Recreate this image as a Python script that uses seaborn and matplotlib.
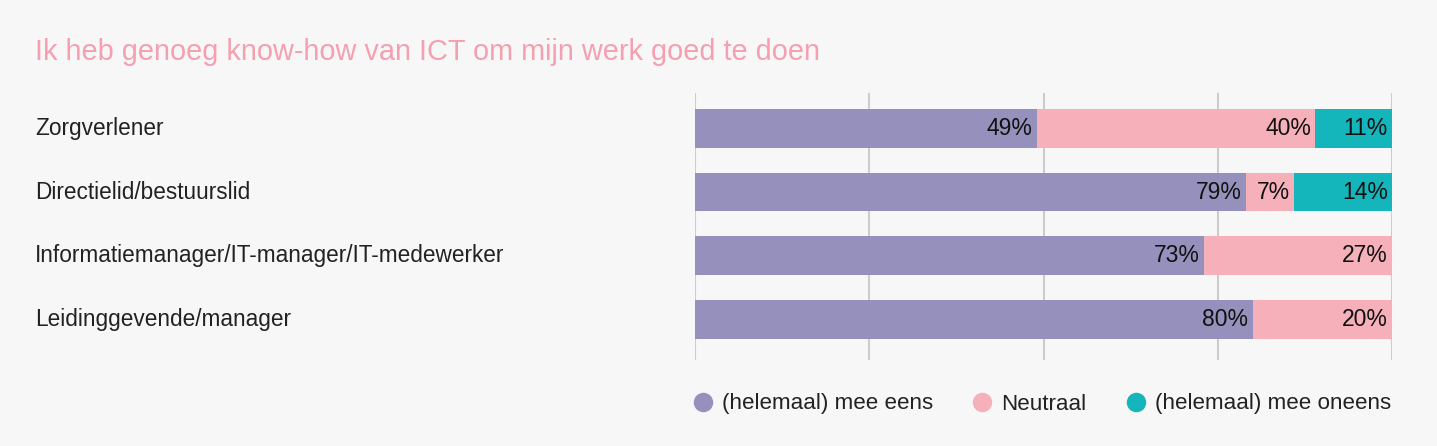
import matplotlib
matplotlib.use("Agg")
import matplotlib.pyplot as plt
import matplotlib.transforms as mtransforms
from matplotlib.lines import Line2D
import seaborn as sns
import pandas as pd
import numpy as np

categories = ["Zorgverlener", "Directielid/bestuurslid",
              "Informatiemanager/IT-manager/IT-medewerker", "Leidinggevende/manager"]
series_names = ["(helemaal) mee eens", "Neutraal", "(helemaal) mee oneens"]
eens = [49, 79, 73, 80]
neutraal = [40, 7, 27, 20]
oneens = [11, 14, 0, 0]
title = "Ik heb genoeg know-how van ICT om mijn werk goed te doen"

colors = ["#9591bc", "#f5b0ba", "#14b5bb"]
bg = "#f7f7f7"

sns.set_theme(style="white")
plt.rcParams["font.family"] = ["Liberation Sans", "DejaVu Sans"]

fig = plt.figure(figsize=(14.37, 4.46), dpi=100, facecolor=bg)
ax = fig.add_axes([695/1437, 1-360/446, 697/1437, 267/446])
ax.set_facecolor(bg)

vals = np.array([eens, neutraal, oneens], dtype=float)
cum = np.cumsum(vals, axis=0)

# draw layered cumulative bars, largest first
for i in [2, 1, 0]:
    df = pd.DataFrame({"cat": categories, "v": cum[i]})
    sns.barplot(data=df, x="v", y="cat", orient="h", color=colors[i],
                saturation=1, width=0.61, ax=ax, zorder=3, linewidth=0)

ax.set_xlim(0, 100)
ax.set_ylim(3.63, -0.55)
ax.set_xticks([0, 25, 50, 75, 100])
ax.xaxis.grid(True, color="#cccccc", linewidth=1.5, zorder=0)
ax.set_axisbelow(True)
ax.tick_params(axis="both", length=0, labelbottom=False, labelleft=False)
ax.set_xlabel("")
ax.set_ylabel("")
for s in ax.spines.values():
    s.set_visible(False)

# value labels
for i in range(3):
    for j in range(len(categories)):
        if vals[i, j] > 0:
            ax.text(cum[i, j] - 0.6, j, f"{int(vals[i, j])}%", ha="right", va="center",
                    fontsize=16.5, color="#111111", zorder=5)

# category labels
trans = mtransforms.blended_transform_factory(fig.transFigure, ax.transData)
for j, c in enumerate(categories):
    ax.text(35/1437, j, c, transform=trans, ha="left", va="center",
            fontsize=16.3, color="#222222")

fig.text(35/1437, 1-52/446, title, ha="left", va="center", fontsize=20.8, color="#f4a0b0")

handles = [Line2D([0], [0], marker="o", linestyle="", markersize=13,
                  markerfacecolor=c, markeredgecolor=c) for c in colors]
fig.legend(handles, series_names, loc="center right", ncol=3,
           bbox_to_anchor=(1411/1437, 1-404/446), frameon=False,
           fontsize=16.1, handletextpad=0.35, columnspacing=1.7, handlelength=1.0,
           labelcolor="#222222")

fig.savefig("out.png", dpi=100, facecolor=bg)
